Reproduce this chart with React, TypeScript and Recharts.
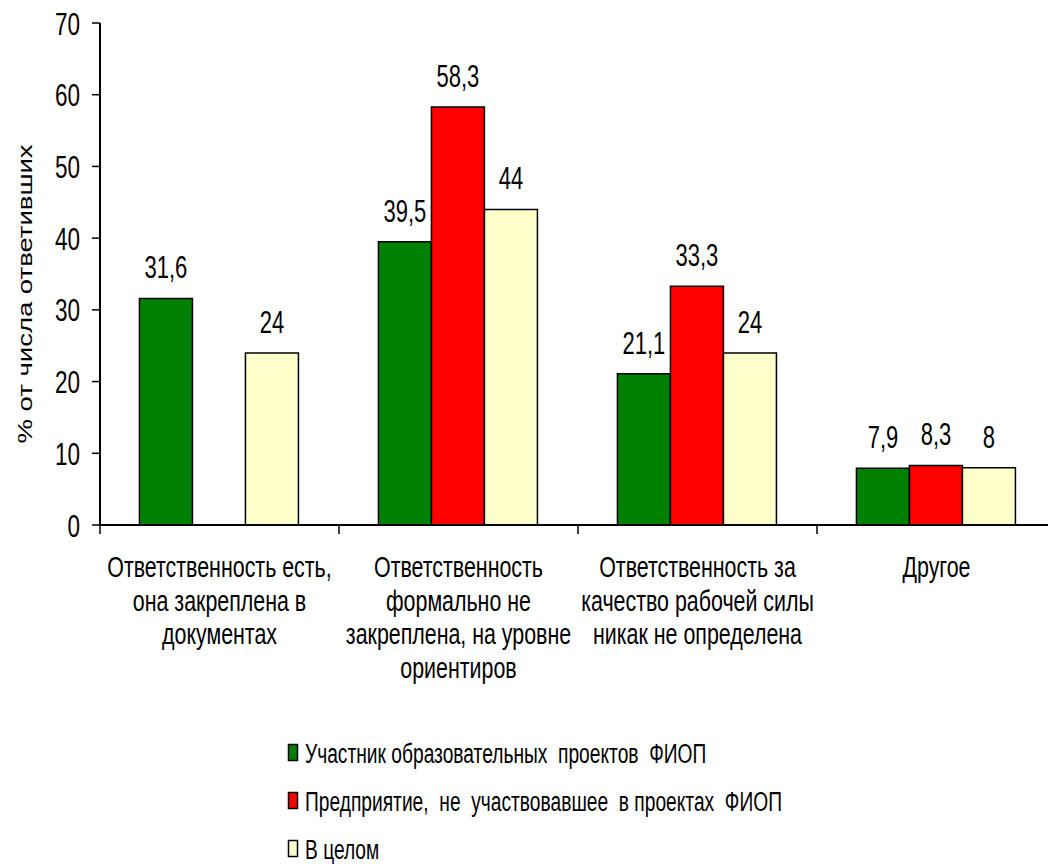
import React from 'react';
import { BarChart, Bar, XAxis, YAxis, LabelList } from 'recharts';

// Category labels (line breaks mark the wrapped lines under each group)
const categories = [
  'Ответственность есть,\nона закреплена в\nдокументах',
  'Ответственность\nформально не\nзакреплена, на уровне\nориентиров',
  'Ответственность за\nкачество рабочей силы\nникак не определена',
  'Другое',
];

const participants = [31.6, 39.5, 21.1, 7.9];
const nonParticipants = [0, 58.3, 33.3, 8.3];
const overall = [24, 44, 24, 8];

const yTicks = [0, 10, 20, 30, 40, 50, 60, 70];

const seriesNames = [
  'Участник образовательных  проектов  ФИОП',
  'Предприятие,  не  участвовавшее  в проектах  ФИОП',
  'В целом',
];
const seriesColors = ['#008000', '#FF0000', '#FFFFCC'];

const data = categories.map((name, i) => ({
  name,
  a: participants[i],
  b: nonParticipants[i],
  c: overall[i],
}));

const FONT = "'Liberation Sans', Arial, sans-serif";
const STRETCH = 1.42;

// Text drawn with a tall, narrow look (vertical stretch around its baseline)
const TallText = ({ x, y, size, anchor = 'middle', sy = STRETCH, children }: any) => (
  <text
    transform={`translate(${x} ${y}) scale(1 ${sy})`}
    x={0}
    y={0}
    textAnchor={anchor}
    fontFamily={FONT}
    fontSize={size}
    fill="#000"
    style={{ whiteSpace: 'pre' }}
    xmlSpace="preserve"
  >
    {children}
  </text>
);

const fmt = (v: any) => String(v).replace('.', ',');

const CategoryTick = (props: any) => {
  const { x, y, payload, index } = props;
  const half = payload && payload.offset ? payload.offset : 119.5;
  const lines = String(payload.value).split('\n');
  return (
    <g>
      <line x1={x - half} y1={y} x2={x - half} y2={y + 9} stroke="#000" strokeWidth={1.5} />
      {index === categories.length - 1 && (
        <line x1={x + half} y1={y} x2={x + half} y2={y + 9} stroke="#000" strokeWidth={1.5} />
      )}
      {lines.map((ln, i) => (
        <TallText key={i} x={x} y={y + 52 + i * 33.5} size={21.4}>
          {ln}
        </TallText>
      ))}
    </g>
  );
};

const ValueTick = (props: any) => {
  const { x, y, payload } = props;
  return (
    <TallText x={x} y={y + 11.5} size={22.5} anchor="end">
      {payload.value}
    </TallText>
  );
};

const ValueLabel = (props: any) => {
  const { x, y, width, value } = props;
  return (
    <TallText x={x + width / 2} y={y - 20} size={22} sy={1.4}>
      {fmt(value)}
    </TallText>
  );
};

const AxisTitle = (props: any) => {
  const { viewBox } = props;
  const cx = viewBox.x + 24;
  const cy = viewBox.y + viewBox.height / 2 + 20;
  return (
    <text
      transform={`translate(${cx} ${cy}) rotate(-90) scale(1.31 1)`}
      x={0}
      y={0}
      textAnchor="middle"
      fontFamily={FONT}
      fontSize={21}
      fill="#000"
    >
      % от числа ответивших
    </text>
  );
};

export default function App() {
  return (
    <div style={{ position: 'relative', width: 1048, height: 856 }}>
      <BarChart
        width={1048}
        height={856}
        data={data}
        margin={{ top: 15, right: 0, bottom: 159, left: 0 }}
        barCategoryGap="16.5%"
        barGap={0}
        style={{ overflow: 'visible' }}
      >
        <XAxis
          dataKey="name"
          height={180}
          axisLine={{ stroke: '#000', strokeWidth: 2 }}
          tickLine={false}
          tickSize={0}
          tickMargin={0}
          interval={0}
          tick={<CategoryTick />}
        />
        <YAxis
          width={92}
          domain={[0, 70]}
          ticks={yTicks}
          interval={0}
          axisLine={{ stroke: '#000', strokeWidth: 2 }}
          tickLine={{ stroke: '#000', strokeWidth: 1.5 }}
          tickSize={8}
          tickMargin={12}
          tick={<ValueTick />}
          label={{ content: <AxisTitle /> }}
        />
        <Bar dataKey="a" fill={seriesColors[0]} stroke="#000" strokeWidth={1.5} isAnimationActive={false}>
          <LabelList dataKey="a" content={<ValueLabel />} />
        </Bar>
        <Bar dataKey="b" fill={seriesColors[1]} stroke="#000" strokeWidth={1.5} isAnimationActive={false}>
          <LabelList dataKey="b" content={<ValueLabel />} />
        </Bar>
        <Bar dataKey="c" fill={seriesColors[2]} stroke="#000" strokeWidth={1.5} isAnimationActive={false}>
          <LabelList dataKey="c" content={<ValueLabel />} />
        </Bar>
      </BarChart>
      <svg
        width={560}
        height={150}
        style={{ position: 'absolute', left: 272, top: 707, overflow: 'visible' }}
      >
        {seriesNames.map((n, i) => (
          <g key={n}>
            <rect
              x={8.5}
              y={29.5 + i * 48}
              width={9}
              height={16}
              fill={seriesColors[i]}
              stroke="#000"
              strokeWidth={1.5}
            />
            <TallText x={25} y={48 + i * 48} size={19.2} anchor="start" sy={1.46}>
              {n}
            </TallText>
          </g>
        ))}
      </svg>
    </div>
  );
}
